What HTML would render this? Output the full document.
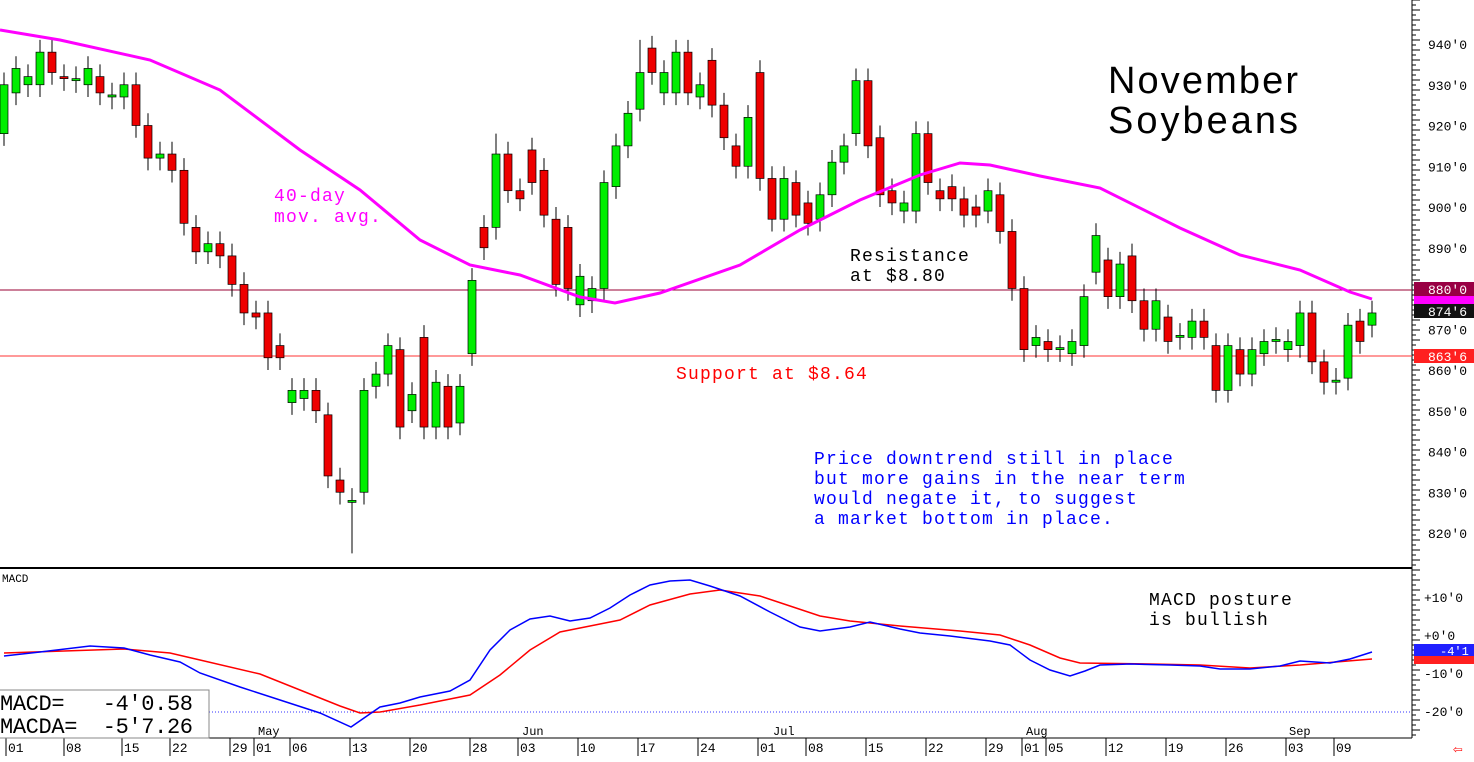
<!DOCTYPE html><html><head><style>body{margin:0;background:#fff}svg{display:block;font-family:"Liberation Mono","DejaVu Sans Mono",monospace}</style></head><body>
<svg id="s" width="1474" height="762" xmlns="http://www.w3.org/2000/svg">
<rect width="1474" height="762" fill="#fff"/>
<line x1="0" y1="568" x2="1412" y2="568" stroke="#000" stroke-width="2"/>
<line x1="1412" y1="0" x2="1412" y2="738" stroke="#000" stroke-width="1"/>
<line x1="0" y1="738" x2="1412" y2="738" stroke="#000" stroke-width="1"/>
<line x1="0" y1="290" x2="1412" y2="290" stroke="#990033" stroke-width="1"/>
<line x1="0" y1="356" x2="1412" y2="356" stroke="#ff3333" stroke-width="1"/>
<line x1="200" y1="712" x2="1412" y2="712" stroke="#3333ff" stroke-width="1" stroke-dasharray="1,2"/>
<g id="c"></g>
<polyline fill="none" stroke="#ff00ff" stroke-width="3" points="0,30 60,40 150,60 220,90 300,150 360,190 420,240 470,265 520,275 580,297 615,303 660,293 740,265 800,230 860,200 920,175 960,163 990,165 1040,176 1100,188 1180,228 1240,255 1300,270 1350,292 1372,299"/>
<polyline fill="none" stroke="#ff0000" stroke-width="1.5" points="4,653 124,649 170,653 200,660 260,674 300,690 340,706 360,713 380,712 420,705 470,695 500,675 530,650 560,632 590,626 620,620 650,605 690,594 720,590 760,596 790,606 820,616 850,621 900,626 960,631 1000,635 1030,645 1060,658 1080,663 1150,664 1200,665 1250,668 1300,665 1372,659"/>
<polyline fill="none" stroke="#0000ff" stroke-width="1.5" points="4,656 40,652 90,646 124,648 150,655 180,662 200,673 240,687 280,700 320,713 351,727 380,707 400,703 420,697 450,691 470,680 490,650 510,630 530,619 550,616 570,621 590,618 610,608 630,595 650,585 670,581 690,580 710,586 740,596 770,612 800,627 820,631 850,627 870,622 900,629 920,633 950,636 990,641 1010,645 1030,660 1050,670 1070,676 1085,671 1100,665 1130,664 1170,665 1200,666 1220,669 1250,669 1280,666 1300,661 1330,663 1350,659 1372,652"/>
<g font-size="13" fill="#000" id="ax"></g>
<rect x="1414" y="282" width="60" height="14" fill="#990044"/><text x="1428" y="294" font-size="13" fill="#fff">880'0</text>
<rect x="1414" y="296" width="60" height="8" fill="#ff00ff"/>
<rect x="1414" y="304" width="60" height="14" fill="#111"/><text x="1428" y="316" font-size="13" fill="#fff">874'6</text>
<rect x="1414" y="349" width="60" height="14" fill="#ff2020"/><text x="1428" y="361" font-size="13" fill="#fff">863'6</text>
<rect x="1414" y="644" width="60" height="12" fill="#2020ff"/><text x="1440" y="655" font-size="12" fill="#fff">-4'1</text>
<rect x="1414" y="656" width="60" height="8" fill="#ff2020"/>
<text x="1108" y="93" font-size="38" font-family="Liberation Sans,sans-serif" fill="#000" textLength="190" lengthAdjust="spacing">November</text>
<text x="1108" y="133" font-size="38" font-family="Liberation Sans,sans-serif" fill="#000" textLength="190" lengthAdjust="spacing">Soybeans</text>
<g letter-spacing="1.2">
<text x="274" y="201" font-size="18" fill="#ff00ff">40-day</text>
<text x="274" y="222" font-size="18" fill="#ff00ff">mov. avg.</text>
<text x="850" y="261" font-size="18" fill="#000">Resistance</text>
<text x="850" y="281" font-size="18" fill="#000">at $8.80</text>
<text x="676" y="379" font-size="18" fill="#ff0000">Support at $8.64</text>
<g font-size="18" fill="#0000ff"><text x="814" y="464">Price downtrend still in place</text><text x="814" y="484">but more gains in the near term</text><text x="814" y="504">would negate it, to suggest</text><text x="814" y="524">a market bottom in place.</text></g>
<text x="1149" y="605" font-size="18" fill="#000">MACD posture</text><text x="1149" y="625" font-size="18" fill="#000">is bullish</text>
</g>
<text x="2" y="582" font-size="11" fill="#000">MACD</text>
<rect x="-1" y="690" width="210" height="48" fill="#fff" stroke="#888"/>
<text x="0" y="710" font-size="22" fill="#000" textLength="193" lengthAdjust="spacing" xml:space="preserve">MACD=   -4'0.58</text>
<text x="0" y="733" font-size="22" fill="#000" textLength="193" lengthAdjust="spacing" xml:space="preserve">MACDA=  -5'7.26</text>
<g font-size="12" fill="#000"><text x="258" y="735">May</text><text x="522" y="735">Jun</text><text x="773" y="735">Jul</text><text x="1026" y="735">Aug</text><text x="1289" y="735">Sep</text></g>
<rect x="1455" y="741" width="16" height="12" fill="#fff"/><text x="1453" y="754" font-size="16" fill="#ff0000">⇦</text>
</svg>
<script>
var d=[[918,930],[928,934],[930,932],[930,938],[938,933],[932,931.5],[931,931.5],[930,934],[932,928],[927,927.5],[927,930],[930,920],[920,912],[912,913],[913,909],[909,896],[895,889],[889,891],[891,888],[888,881],[881,874],[874,873],[874,863],[866,863],[852,855],[853,855],[855,850],[849,834],[833,830],[828,828],[830,855],[856,859],[859,866],[865,846],[850,854],[868,846],[846,857],[856,846],[847,856],[864,882],[895,890],[895,913],[913,904],[904,902],[914,906],[909,898],[897,881],[895,880],[876,883],[877,880],[880,906],[905,915],[915,923],[924,933],[939,933],[928,933],[928,938],[938,928],[927,930],[936,925],[925,917],[915,910],[910,922],[933,907],[907,897],[897,907],[906,898],[901,896],[897,903],[903,911],[911,915],[918,931],[931,915],[917,903],[904,901],[899,901],[899,918],[918,906],[904,902],[905,902],[902,898],[900,898],[899,904],[903,894],[894,880],[880,865],[866,868],[867,865],[865,865.5],[864,867],[866,878],[884,893],[887,878],[878,886],[888,877],[877,870],[870,877],[873,867],[868,868.5],[868,872],[872,868],[866,855],[855,866],[865,859],[859,865],[864,867],[867,867.5],[865,867],[866,874],[874,862],[862,857],[857,857.5],[858,871],[872,867],[871,874]];
function y(p){return 44+(940-p)*4.075}
var h='';
d.forEach(function(c,i){var x=4+i*12,o=c[0],cl=c[1],hi=Math.max(o,cl)+3,lo=Math.min(o,cl)-3;if(i==29)lo=815;if(i==41)hi=918;if(i==53)hi=941;
var up=cl>=o,t=y(Math.max(o,cl)),b=y(Math.min(o,cl));if(b-t<2){b=t+2;}
h+='<line x1="'+x+'" x2="'+x+'" y1="'+y(hi)+'" y2="'+y(lo)+'" stroke="#000"/>';
h+='<rect x="'+(x-4)+'" y="'+t+'" width="8" height="'+(b-t)+'" fill="'+(up?'#00ee00':'#ee0000')+'" stroke="#000" stroke-width="0.7"/>';});
document.getElementById('c').innerHTML=h;
var a='';for(var p=940;p>=820;p-=10){var yy=y(p);if(p!=880)a+='<text x="1428" y="'+(yy+5)+'">'+p+"'0</text>";}
for(var k=0;k<148;k++)a+='<line x1="1412" x2="'+(k%2?1416:1420)+'" y1="'+(k*5)+'" y2="'+(k*5)+'" stroke="#000"/>';
[['+10',602],['+0',640],['-10',678],['-20',716]].forEach(function(m){a+='<text x="1424" y="'+m[1]+'">'+m[0]+"'0</text>"});
var dt=[['01',8],['08',66],['15',124],['22',172],['29',232],['01',256],['06',292],['13',352],['20',412],['28',472],['03',520],['10',580],['17',640],['24',700],['01',760],['08',808],['15',868],['22',928],['29',988],['01',1024],['05',1048],['12',1108],['19',1168],['26',1228],['03',1288],['09',1336]];
dt.forEach(function(q){a+='<line x1="'+(q[1]-2)+'" x2="'+(q[1]-2)+'" y1="738" y2="756" stroke="#000"/><text x="'+q[1]+'" y="752">'+q[0]+'</text>'});
document.getElementById('ax').innerHTML=a;
</script></body></html>
